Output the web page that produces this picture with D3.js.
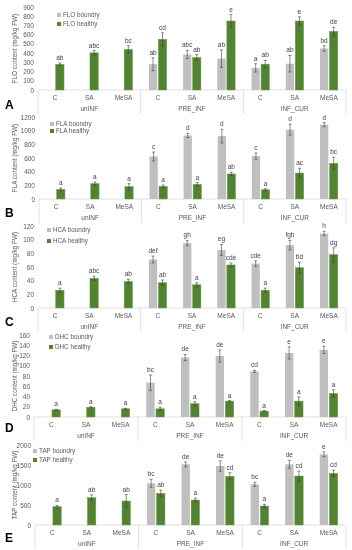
<!DOCTYPE html>
<html>
<head>
<meta charset="utf-8">
<script src="https://cdn.jsdelivr.net/npm/d3@7"></script>
<style>
body { margin: 0; background: #fff; }
svg { display: block; font-family: "Liberation Sans", Arial, sans-serif; will-change: transform; -webkit-font-smoothing: antialiased; }
</style>
</head>
<body>
<div id="chart"></div>
<script>
const groups = ["unINF", "PRE_INF", "INF_CUR"];
const treatments = ["C", "SA", "MeSA"];

// FLO
const floBoundry = [null, null, null, 280, 385, 340, 240, 285, 450];
const floBoundryErr = [0, 0, 0, 70, 45, 95, 45, 90, 30];
const floBoundryLetters = ["", "", "", "ab", "abc", "ab", "a", "ab", "bd"];
const floHealthy = [278, 403, 440, 550, 352, 748, 280, 748, 635];
const floHealthyErr = [15, 25, 40, 70, 30, 70, 40, 45, 45];
const floHealthyLetters = ["ab", "abc", "bc", "cd", "ab", "e", "ab", "e", "de"];

// FLA
const flaBoundry = [null, null, null, 622, 930, 920, 628, 1015, 1088];
const flaBoundryErr = [0, 0, 0, 65, 30, 100, 45, 80, 30];
const flaBoundryLetters = ["", "", "", "c", "d", "d", "c", "d", "d"];
const flaHealthy = [140, 224, 180, 185, 215, 366, 135, 380, 522];
const flaHealthyErr = [20, 25, 45, 20, 25, 25, 15, 70, 90];
const flaHealthyLetters = ["a", "a", "a", "a", "a", "ab", "a", "ac", "bc"];

// HCA
const hcaBoundry = [null, null, null, 71, 95, 85, 65, 92, 109];
const hcaBoundryErr = [0, 0, 0, 5, 4, 8, 4, 7, 3];
const hcaBoundryLetters = ["", "", "", "def", "gh", "eg", "cde", "fgh", "h"];
const hcaHealthy = [26, 43.5, 39, 37, 34, 63, 26, 59, 78];
const hcaHealthyErr = [3, 3, 3, 4, 3, 3, 3, 8, 10];
const hcaHealthyLetters = ["a", "abc", "ab", "ab", "a", "cde", "a", "bd", "dg"];

// DHC
const dhcBoundry = [null, null, null, 67, 116, 119, 89, 125, 131];
const dhcBoundryErr = [0, 0, 0, 15, 6, 12, 2, 12, 7];
const dhcBoundryLetters = ["", "", "", "bc", "de", "de", "cd", "e", "e"];
const dhcHealthy = [14, 19, 16, 16, 26, 31, 11.5, 31, 46];
const dhcHealthyErr = [1, 1, 1, 3, 4, 1, 1, 8, 7];
const dhcHealthyLetters = ["a", "a", "a", "a", "a", "a", "a", "a", "a"];

// TAP
const tapBoundry = [null, null, null, 1042, 1517, 1475, 1017, 1517, 1767];
const tapBoundryErr = [0, 0, 0, 100, 60, 130, 50, 100, 60];
const tapBoundryLetters = ["", "", "", "bc", "de", "de", "bc", "de", "e"];
const tapHealthy = [458, 683, 600, 792, 625, 1217, 475, 1225, 1292];
const tapHealthyErr = [30, 70, 160, 80, 50, 90, 40, 120, 80];
const tapHealthyLetters = ["a", "ab", "ab", "ab", "a", "cd", "a", "cd", "cd"];

const panels = [
  { name: "FLO", letter: "A", max: 900, step: 100, boundry: floBoundry, boundryErr: floBoundryErr, boundryLetters: floBoundryLetters, healthy: floHealthy, healthyErr: floHealthyErr, healthyLetters: floHealthyLetters,
    top: 7, base: 90, left: 38, right: 346, legX: 57, legY: [15, 24], letterY: 109 },
  { name: "FLA", letter: "B", max: 1200, step: 200, boundry: flaBoundry, boundryErr: flaBoundryErr, boundryLetters: flaBoundryLetters, healthy: flaHealthy, healthyErr: flaHealthyErr, healthyLetters: flaHealthyLetters,
    top: 117, base: 199, left: 39, right: 346, legX: 50, legY: [124, 131], letterY: 217 },
  { name: "HCA", letter: "C", max: 120, step: 20, boundry: hcaBoundry, boundryErr: hcaBoundryErr, boundryLetters: hcaBoundryLetters, healthy: hcaHealthy, healthyErr: hcaHealthyErr, healthyLetters: hcaHealthyLetters,
    top: 226, base: 308, left: 38, right: 346, legX: 47, legY: [230, 241], letterY: 326 },
  { name: "DHC", letter: "D", max: 160, step: 20, boundry: dhcBoundry, boundryErr: dhcBoundryErr, boundryLetters: dhcBoundryLetters, healthy: dhcHealthy, healthyErr: dhcHealthyErr, healthyLetters: dhcHealthyLetters,
    top: 335, base: 417, left: 34, right: 346, legX: 49, legY: [337, 347], letterY: 432 },
  { name: "TAP", letter: "E", max: 2000, step: 500, boundry: tapBoundry, boundryErr: tapBoundryErr, boundryLetters: tapBoundryLetters, healthy: tapHealthy, healthyErr: tapHealthyErr, healthyLetters: tapHealthyLetters,
    top: 445, base: 525, left: 35, right: 346, legX: 33, legY: [451, 460], letterY: 542 }
];

const width = 352, height = 550;
const grey = "#bfbfbf", green = "#548235";
const textCol = "#595959";
const lineCol = "#d9d9d9";

const svg = d3.select("#chart").append("svg")
  .attr("width", width)
  .attr("height", height);

const cats = [];
groups.forEach(g => treatments.forEach(t => cats.push(g + "|" + t)));

panels.forEach(p => {
  const g = svg.append("g");

  const y = d3.scaleLinear().domain([0, p.max]).range([p.base, p.top]);
  const x0 = d3.scaleBand().domain(cats).range([p.left, p.right]);
  const x1 = d3.scaleBand().domain(["boundry", "healthy"])
    .range([0, x0.bandwidth()]).paddingInner(0.13).paddingOuter(0.86);

  // y axis
  const ticks = d3.range(0, p.max + 1, p.step);
  const ax = g.append("g")
    .attr("transform", `translate(${p.left - 4},0)`)
    .call(d3.axisLeft(y).tickValues(ticks).tickSize(0).tickPadding(0).tickFormat(d3.format("d")));
  ax.select(".domain").remove();
  ax.selectAll("text").attr("font-size", 6.5).attr("fill", textCol).attr("font-family", "Liberation Sans, Arial, sans-serif");

  // y title
  g.append("text")
    .attr("transform", `translate(15,${(p.top + p.base) / 2}) rotate(-90)`)
    .attr("text-anchor", "middle")
    .attr("dominant-baseline", "middle")
    .attr("font-size", 6.3)
    .attr("fill", textCol)
    .text(p.name + " content (mg/kg FW)");

  // baseline and group separators
  g.append("line")
    .attr("x1", p.left).attr("x2", p.right)
    .attr("y1", y(0)).attr("y2", y(0))
    .attr("stroke", lineCol).attr("stroke-width", 0.8);
  const seps = groups.map(gr => x0(gr + "|C")).concat([p.right]);
  g.selectAll(".sep").data(seps).enter().append("line")
    .attr("x1", d => d).attr("x2", d => d)
    .attr("y1", y(0)).attr("y2", y(0) + 24)
    .attr("stroke", lineCol).attr("stroke-width", 0.8);

  // category labels
  g.selectAll(".cat").data(cats).enter().append("text")
    .attr("x", d => x0(d) + x0.bandwidth() / 2)
    .attr("y", y(0) + 8)
    .attr("text-anchor", "middle")
    .attr("dominant-baseline", "middle")
    .attr("font-size", 6.5)
    .attr("fill", textCol)
    .text(d => d.split("|")[1]);
  g.selectAll(".grp").data(groups).enter().append("text")
    .attr("x", d => x0(d + "|C") + x0.bandwidth() * 1.5)
    .attr("y", y(0) + 19)
    .attr("text-anchor", "middle")
    .attr("dominant-baseline", "middle")
    .attr("font-size", 6.5)
    .attr("fill", textCol)
    .text(d => d);

  // bars
  const series = [
    { key: "boundry", vals: p.boundry, errs: p.boundryErr, letters: p.boundryLetters, fill: grey, stroke: "none" },
    { key: "healthy", vals: p.healthy, errs: p.healthyErr, letters: p.healthyLetters, fill: green, stroke: "#6b9e48" }
  ];
  series.forEach(s => {
    const rows = cats.map((c, i) => ({ c, v: s.vals[i], e: s.errs[i], l: s.letters[i] })).filter(d => d.v != null);
    g.selectAll(".bar-" + s.key).data(rows).enter().append("rect")
      .attr("x", d => x0(d.c) + x1(s.key))
      .attr("width", x1.bandwidth())
      .attr("y", d => y(d.v))
      .attr("height", d => y(0) - y(d.v))
      .attr("fill", s.fill)
      .attr("stroke", s.stroke)
      .attr("stroke-width", 0.5);

    const eb = g.selectAll(".err-" + s.key).data(rows).enter().append("g")
      .attr("stroke", "#404040").attr("stroke-width", 0.6);
    eb.append("line")
      .attr("x1", d => x0(d.c) + x1(s.key) + x1.bandwidth() / 2)
      .attr("x2", d => x0(d.c) + x1(s.key) + x1.bandwidth() / 2)
      .attr("y1", d => y(d.v - d.e)).attr("y2", d => y(d.v + d.e));
    [1, -1].forEach(sign => {
      eb.append("line")
        .attr("x1", d => x0(d.c) + x1(s.key) + x1.bandwidth() / 2 - 1.5)
        .attr("x2", d => x0(d.c) + x1(s.key) + x1.bandwidth() / 2 + 1.5)
        .attr("y1", d => y(d.v + sign * d.e)).attr("y2", d => y(d.v + sign * d.e));
    });

    g.selectAll(".lab-" + s.key).data(rows).enter().append("text")
      .attr("x", d => x0(d.c) + x1(s.key) + x1.bandwidth() / 2)
      .attr("y", d => y(d.v + d.e) - 3)
      .attr("text-anchor", "middle")
      .attr("font-size", 6.5)
      .attr("fill", "#404040")
      .text(d => d.l);
  });

  // legend
  series.forEach((s, i) => {
    g.append("rect")
      .attr("x", p.legX).attr("y", p.legY[i] - 2)
      .attr("width", 4).attr("height", 4)
      .attr("fill", s.fill);
    g.append("text")
      .attr("x", p.legX + 6).attr("y", p.legY[i])
      .attr("dominant-baseline", "middle")
      .attr("font-size", 6.3)
      .attr("fill", textCol)
      .text(p.name + " " + s.key);
  });

  // panel letter
  g.append("text")
    .attr("x", 5).attr("y", p.letterY)
    .attr("font-size", 12)
    .attr("font-weight", "bold")
    .attr("fill", "#000")
    .text(p.letter);
});
</script>
</body>
</html>
